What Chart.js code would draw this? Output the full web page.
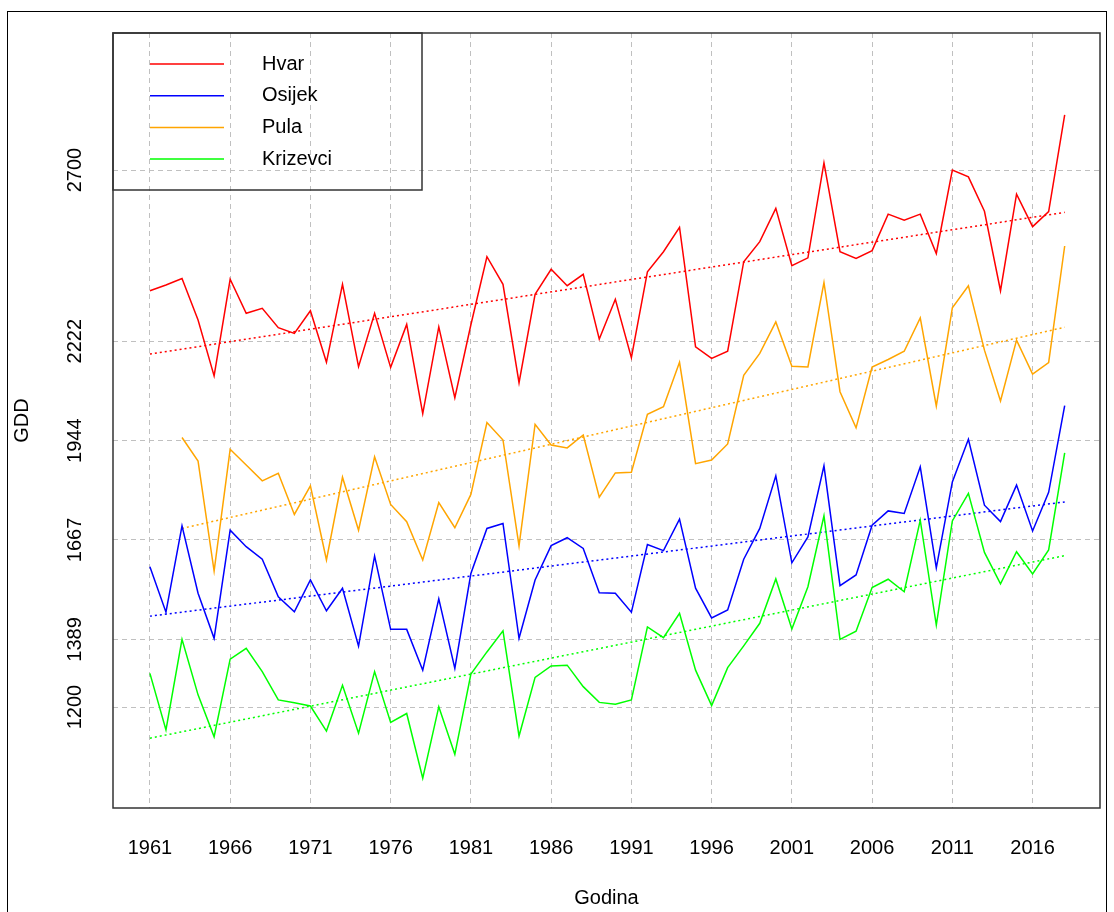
<!DOCTYPE html>
<html>
<head>
<meta charset="utf-8">
<script src="https://cdn.jsdelivr.net/npm/chart.js@4/dist/chart.umd.min.js"></script>
<style>
  html, body { margin: 0; padding: 0; background: #fff; overflow: hidden; }
  #wrap { position: relative; width: 1114px; height: 912px; }
  #frame { position: absolute; left: 7px; top: 11px; width: 1100px; height: 1000px; border: 1px solid #000; box-sizing: border-box; pointer-events: none; }
  canvas { position: absolute; left: 0; top: 0; }
</style>
</head>
<body>
<div id="wrap">
  <canvas id="gddChart" width="1114" height="912"></canvas>
  <div id="frame"></div>
</div>
<script>
// godine (x os)
const years = [1961, 1962, 1963, 1964, 1965, 1966, 1967, 1968, 1969, 1970,
               1971, 1972, 1973, 1974, 1975, 1976, 1977, 1978, 1979, 1980,
               1981, 1982, 1983, 1984, 1985, 1986, 1987, 1988, 1989, 1990,
               1991, 1992, 1993, 1994, 1995, 1996, 1997, 1998, 1999, 2000,
               2001, 2002, 2003, 2004, 2005, 2006, 2007, 2008, 2009, 2010,
               2011, 2012, 2013, 2014, 2015, 2016, 2017, 2018];

// GDD po postajama
const hvar = [2363, 2379, 2397, 2281, 2125, 2395, 2300, 2314, 2260, 2244,
              2307, 2163, 2381, 2151, 2300, 2149, 2269, 2020, 2262, 2064,
              2268, 2458, 2381, 2106, 2353, 2423, 2377, 2409, 2228, 2339,
              2176, 2416, 2472, 2540, 2206, 2174, 2194, 2444, 2500, 2593,
              2433, 2455, 2720, 2472, 2453, 2475, 2577, 2560, 2577, 2467,
              2700, 2681, 2585, 2363, 2633, 2542, 2584, 2854];
const osijek = [1592, 1465, 1706, 1518, 1392, 1694, 1648, 1613, 1508, 1466,
                1555, 1469, 1532, 1370, 1622, 1417, 1417, 1303, 1502, 1308,
                1573, 1699, 1713, 1392, 1555, 1651, 1673, 1643, 1519, 1518,
                1465, 1654, 1637, 1725, 1532, 1449, 1471, 1613, 1699, 1846,
                1603, 1675, 1874, 1539, 1569, 1708, 1748, 1741, 1871, 1589,
                1829, 1948, 1764, 1718, 1820, 1692, 1800, 2042];
const pula = [null, null, 1953, 1887, 1580, 1920, 1876, 1832, 1853, 1738,
              1818, 1611, 1842, 1694, 1899, 1766, 1718, 1611, 1771, 1701,
              1794, 1995, 1946, 1650, 1990, 1932, 1924, 1960, 1786, 1854,
              1856, 2018, 2039, 2163, 1880, 1890, 1935, 2127, 2188, 2276,
              2152, 2150, 2386, 2081, 1980, 2150, 2171, 2194, 2287, 2041,
              2315, 2377, 2197, 2055, 2225, 2130, 2162, 2488];
const krizevci = [1294, 1136, 1389, 1234, 1117, 1334, 1364, 1299, 1220, 1212,
                  1203, 1133, 1261, 1127, 1299, 1157, 1182, 1001, 1201, 1068,
                  1292, 1354, 1413, 1119, 1283, 1315, 1317, 1257, 1213, 1208,
                  1220, 1424, 1394, 1462, 1303, 1204, 1310, 1371, 1434, 1558,
                  1418, 1536, 1734, 1389, 1412, 1534, 1557, 1522, 1722, 1429,
                  1720, 1797, 1632, 1544, 1634, 1572, 1639, 1910];

// linije trenda (pocetak i kraj)
const trendYears = [1961, 2018];
const trendYearsPula = [1963, 2018];
const hvarTrend = [2186, 2582];
const osijekTrend = [1454, 1773];
const pulaTrend = [1699, 2261];
const krizevciTrend = [1113, 1623];

// oznake osi
const xTicks = [1961, 1966, 1971, 1976, 1981, 1986, 1991, 1996, 2001, 2006, 2011, 2016];
const yTicks = [1200, 1389, 1667, 1944, 2222, 2700];

const FONT = '"Liberation Sans", Arial, Helvetica, sans-serif';

function points(xs, ys) {
    return xs.map((x, i) => ({ x: x, y: ys[i] }));
}

function station(label, color, vals) {
    return {
        label: label,
        data: points(years, vals),
        borderColor: color,
        backgroundColor: color,
        borderWidth: 1.5,
        pointRadius: 0,
        tension: 0,
        spanGaps: false
    };
}

function trend(color, xs, vals) {
    return {
        label: '',
        isTrend: true,
        data: points(xs, vals),
        borderColor: color,
        borderWidth: 1.5,
        borderDash: [2, 3],
        pointRadius: 0,
        tension: 0
    };
}

// crta okvir, legendu i oznake y osi
const rPlotStyle = {
    id: 'rPlotStyle',
    afterDraw(chart) {
        const { ctx, chartArea: a, scales } = chart;
        ctx.save();

        // oznake y osi (okomito)
        ctx.fillStyle = '#000';
        ctx.font = '20px ' + FONT;
        ctx.textAlign = 'center';
        ctx.textBaseline = 'middle';
        yTicks.forEach(v => {
            ctx.save();
            ctx.translate(75, scales.y.getPixelForValue(v));
            ctx.rotate(-Math.PI / 2);
            ctx.fillText(String(v), 0, 0);
            ctx.restore();
        });

        // okvir grafa
        ctx.strokeStyle = '#333';
        ctx.lineWidth = 1.5;
        ctx.strokeRect(a.left, a.top, a.right - a.left, a.bottom - a.top);

        // legenda
        ctx.strokeRect(a.left, a.top, 309, 157);
        ctx.textAlign = 'left';
        chart.data.datasets.filter(d => !d.isTrend).forEach((d, i) => {
            const yy = a.top + 31 + i * 31.7;
            ctx.strokeStyle = d.borderColor;
            ctx.lineWidth = 1.5;
            ctx.beginPath();
            ctx.moveTo(a.left + 37, yy);
            ctx.lineTo(a.left + 111, yy);
            ctx.stroke();
            ctx.fillStyle = '#000';
            ctx.fillText(d.label, a.left + 149, yy);
        });
        ctx.restore();
    }
};

const ctx = document.getElementById('gddChart').getContext('2d');

new Chart(ctx, {
    type: 'line',
    data: {
        datasets: [
            station('Hvar', '#ff0000', hvar),
            station('Osijek', '#0000ff', osijek),
            station('Pula', '#ffa500', pula),
            station('Krizevci', '#00ff00', krizevci),
            trend('#ff0000', trendYears, hvarTrend),
            trend('#0000ff', trendYears, osijekTrend),
            trend('#ffa500', trendYearsPula, pulaTrend),
            trend('#00ff00', trendYears, krizevciTrend)
        ]
    },
    options: {
        responsive: false,
        animation: false,
        devicePixelRatio: 1,
        layout: { padding: { left: 0, top: 33, right: 14, bottom: 0 } },
        plugins: {
            legend: { display: false },
            tooltip: { enabled: false }
        },
        scales: {
            x: {
                type: 'linear',
                min: 1958.7,
                max: 2020.2,
                afterBuildTicks: scale => { scale.ticks = xTicks.map(v => ({ value: v })); },
                afterFit: scale => { scale.height = 104; },
                grid: { color: '#c0c0c0', lineWidth: 1, drawTicks: false },
                border: { display: false, dash: [5, 4] },
                ticks: {
                    color: '#000',
                    font: { size: 20, family: FONT },
                    padding: 28,
                    maxRotation: 0,
                    autoSkip: false,
                    callback: v => String(v)
                },
                title: {
                    display: true,
                    text: 'Godina',
                    color: '#000',
                    font: { size: 20, family: FONT },
                    padding: { top: 0, bottom: 2 }
                }
            },
            y: {
                type: 'linear',
                min: 918,
                max: 3083,
                afterBuildTicks: scale => { scale.ticks = yTicks.map(v => ({ value: v })); },
                afterFit: scale => { scale.width = 113; },
                grid: { color: '#c0c0c0', lineWidth: 1, drawTicks: false },
                border: { display: false, dash: [5, 4] },
                ticks: { display: false },
                title: {
                    display: true,
                    text: 'GDD',
                    color: '#000',
                    font: { size: 20, family: FONT },
                    padding: { top: 10, bottom: 0 }
                }
            }
        }
    },
    plugins: [rPlotStyle]
});
</script>
</body>
</html>
